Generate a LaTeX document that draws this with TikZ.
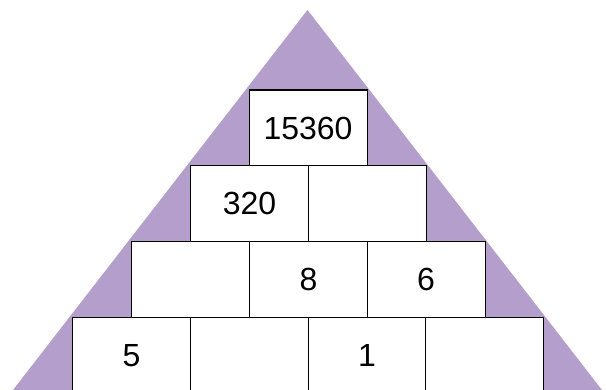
\documentclass[tikz,border=0pt]{standalone}
\usepackage{fontspec}
\setmainfont{Liberation Sans}
\definecolor{tripurple}{HTML}{B49FCC}
\begin{document}
\begin{tikzpicture}[x=1pt,y=-1pt,
  cell/.style={draw=black,line width=1.1pt,fill=white,minimum width=118pt,minimum height=76pt,inner sep=0pt,anchor=north west,font=\fontsize{32}{32}\selectfont}]
\useasboundingbox (0,0) rectangle (606,390);
\clip (0,0) rectangle (606,390);
\fill[tripurple] (307.5,10) -- (13,390) -- (602,390) -- cycle;
% row 1
\node[cell] (a1) at (248.5,89.5) {15360};
% row 2
\node[cell] (b1) at (190,165) {320};
\node[cell] (b2) at (307.5,165) {};
% row 3
\node[cell] (c1) at (131,241) {};
\node[cell] (c2) at (249,241) {8};
\node[cell] (c3) at (366.5,241) {6};
% row 4
\node[cell] (d1) at (72,317) {5};
\node[cell] (d2) at (190,317) {};
\node[cell] (d3) at (307.5,317) {1};
\node[cell] (d4) at (425,317) {};
\end{tikzpicture}
\end{document}
